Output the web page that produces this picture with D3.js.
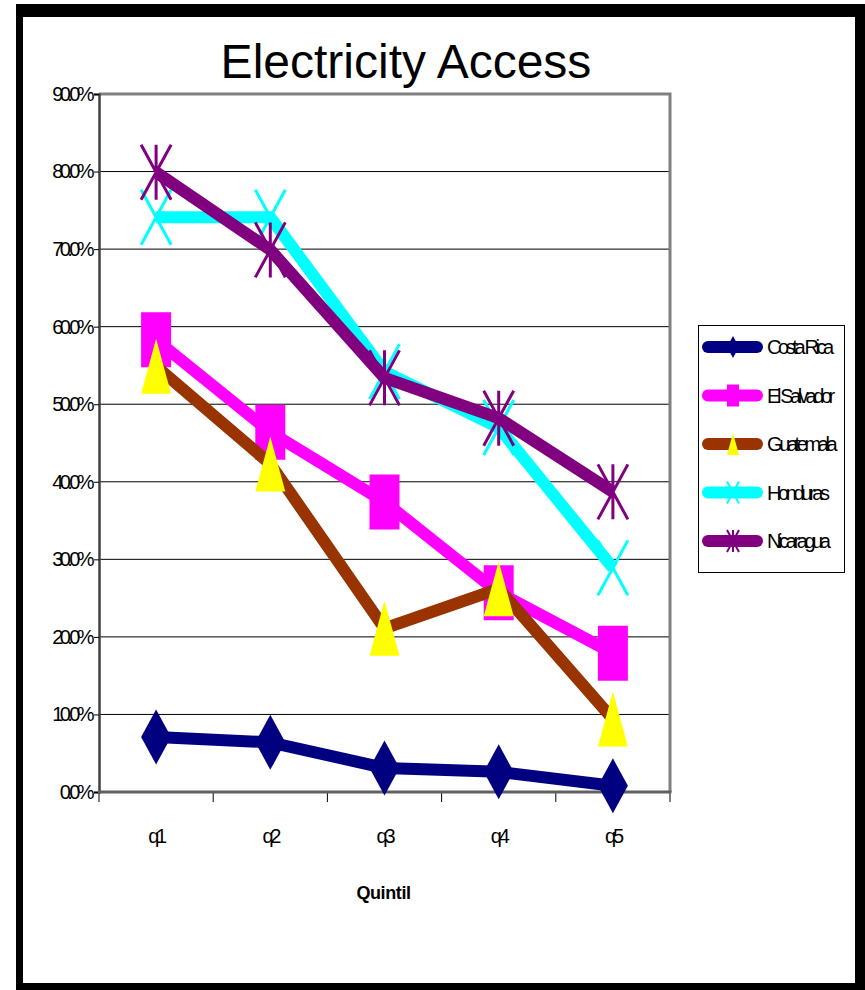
<!DOCTYPE html>
<html>
<head>
<meta charset="utf-8">
<script src="https://cdn.jsdelivr.net/npm/d3@7/dist/d3.min.js"></script>
<style>
  html, body { margin: 0; padding: 0; background: #fff; }
  svg { display: block; font-family: "Liberation Sans", Arial, sans-serif; }
</style>
</head>
<body>
<svg id="chart" width="865" height="990"></svg>
<script>
// Electricity access by income quintile, five Central American countries
const quintiles = ["q1", "q2", "q3", "q4", "q5"];
const countries = ["Costa Rica", "El Salvador", "Guatemala", "Honduras", "Nicaragua"];
const costaRica  = [0.071, 0.064, 0.031, 0.026, 0.008];
const elSalvador = [0.583, 0.464, 0.374, 0.257, 0.179];
const guatemala  = [0.549, 0.423, 0.211, 0.262, 0.094];
const honduras   = [0.741, 0.741, 0.542, 0.470, 0.289];
const nicaragua  = [0.799, 0.699, 0.534, 0.482, 0.387];
const yTicks = [0, 0.1, 0.2, 0.3, 0.4, 0.5, 0.6, 0.7, 0.8, 0.9];

const seriesValues = [costaRica, elSalvador, guatemala, honduras, nicaragua];
const lineColors   = ["#000080", "#FF00FF", "#993300", "#00FFFF", "#800080"];
const markerFills  = ["#000080", "#FF00FF", "#FFFF00", "none", "none"];
const markerKinds  = ["diamond", "square", "triangle", "x", "star"];

const svg = d3.select("#chart");

// frame
svg.append("rect").attr("x", 16).attr("y", 4).attr("width", 849).attr("height", 986).attr("fill", "#000");
svg.append("rect").attr("x", 23).attr("y", 17).attr("width", 832).attr("height", 966).attr("fill", "#fff");

const plot = { left: 99, right: 670, top: 94, bottom: 792 };

const x = d3.scaleBand().domain(quintiles).range([plot.left, plot.right]);
const y = d3.scaleLinear().domain([0, 0.9]).range([plot.bottom, plot.top]);

// title
svg.append("text")
  .attr("x", 406).attr("y", 78)
  .attr("text-anchor", "middle")
  .attr("font-size", 48)
  .attr("fill", "#000")
  .text("Electricity Access");

// gridlines
svg.append("g")
  .selectAll("line")
  .data(yTicks.filter(t => t > 0 && t < 0.9))
  .join("line")
  .attr("x1", plot.left).attr("x2", plot.right)
  .attr("y1", d => y(d)).attr("y2", d => y(d))
  .attr("stroke", "#000").attr("stroke-width", 1);

// plot border top/right
svg.append("path")
  .attr("d", `M${plot.left},${plot.top} H${plot.right} V${plot.bottom}`)
  .attr("fill", "none").attr("stroke", "#808080").attr("stroke-width", 3);

// y axis
const yAxis = svg.append("g")
  .attr("transform", `translate(${plot.left},0)`)
  .call(d3.axisLeft(y).tickValues(yTicks).tickFormat(d3.format(".1%")).tickSize(5).tickPadding(3));
yAxis.select(".domain").attr("stroke", "#404040").attr("stroke-width", 2.5);
yAxis.selectAll(".tick line").attr("stroke", "#000");
yAxis.selectAll(".tick text")
  .attr("font-size", 20)
  .attr("letter-spacing", -3.6)
  .attr("fill", "#000")
  .attr("font-family", "Liberation Sans, Arial, sans-serif");

// x axis
const xAxis = svg.append("g")
  .attr("transform", `translate(0,${plot.bottom})`)
  .call(d3.axisBottom(x).tickSize(0).tickPadding(37));
xAxis.select(".domain").remove();
xAxis.selectAll(".tick text")
  .attr("font-size", 20)
  .attr("letter-spacing", -3.2)
  .attr("fill", "#000")
  .attr("font-family", "Liberation Sans, Arial, sans-serif");

// x tick marks at category boundaries
const bounds = quintiles.map(q => x(q)).concat([x(quintiles[quintiles.length - 1]) + x.bandwidth()]);
svg.append("g").selectAll("line")
  .data(bounds)
  .join("line")
  .attr("x1", d => d).attr("x2", d => d)
  .attr("y1", plot.bottom).attr("y2", plot.bottom + 10)
  .attr("stroke", "#000").attr("stroke-width", 1);

svg.append("line")
  .attr("x1", plot.left - 1).attr("x2", plot.right + 1.5)
  .attr("y1", plot.bottom).attr("y2", plot.bottom)
  .attr("stroke", "#606060").attr("stroke-width", 3);

// x axis title
svg.append("text")
  .attr("x", x("q3") + x.bandwidth() / 2 - 1).attr("y", 899)
  .attr("text-anchor", "middle")
  .attr("font-size", 18).attr("font-weight", "bold")
  .attr("letter-spacing", -0.4)
  .attr("fill", "#000")
  .text("Quintil");

// marker paths
function markerPath(kind, w, h) {
  const a = w / 2, b = h / 2;
  switch (kind) {
    case "diamond":  return `M0,${-b}L${a},0L0,${b}L${-a},0Z`;
    case "square":   return `M${-a},${-b}H${a}V${b}H${-a}Z`;
    case "triangle": return `M0,${-b}L${a},${b}H${-a}Z`;
    case "x":        return `M${-a},${-b}L${a},${b}M${a},${-b}L${-a},${b}`;
    case "star":     return `M${-a},${-b}L${a},${b}M${a},${-b}L${-a},${b}M0,${-b}V${b}`;
  }
}

const line = d3.line()
  .x((d, i) => x(quintiles[i]) + x.bandwidth() / 2)
  .y(d => y(d));

const seriesG = svg.append("g");
seriesValues.forEach((vals, s) => {
  const g = seriesG.append("g");
  g.append("path")
    .attr("d", line(vals))
    .attr("fill", "none")
    .attr("stroke", lineColors[s])
    .attr("stroke-width", 12)
    .attr("stroke-linejoin", "miter");
  const hollow = markerFills[s] === "none";
  g.selectAll("path.m")
    .data(vals)
    .join("path")
    .attr("class", "m")
    .attr("transform", (d, i) => `translate(${x(quintiles[i]) + x.bandwidth() / 2},${y(d)})`)
    .attr("d", markerPath(markerKinds[s], 30, 55))
    .attr("fill", hollow ? "none" : markerFills[s])
    .attr("stroke", hollow ? lineColors[s] : "none")
    .attr("stroke-width", hollow ? 3 : 0);
});

// legend
const legend = svg.append("g");
legend.append("rect")
  .attr("x", 698.5).attr("y", 325.5).attr("width", 146).attr("height", 247)
  .attr("fill", "#fff").attr("stroke", "#000").attr("stroke-width", 1);

countries.forEach((name, s) => {
  const cy = 347 + s * 48.5;
  legend.append("line")
    .attr("x1", 708).attr("x2", 757)
    .attr("y1", cy).attr("y2", cy)
    .attr("stroke", lineColors[s]).attr("stroke-width", 12)
    .attr("stroke-linecap", "round");
  const hollow = markerFills[s] === "none";
  legend.append("path")
    .attr("transform", `translate(733,${cy})`)
    .attr("d", markerPath(markerKinds[s], 12, 22))
    .attr("fill", hollow ? "none" : markerFills[s])
    .attr("stroke", hollow ? lineColors[s] : "none")
    .attr("stroke-width", hollow ? 2 : 0);
  legend.append("text")
    .attr("x", 767).attr("y", cy + 7)
    .attr("font-size", 20)
    .attr("letter-spacing", -3.4)
    .attr("fill", "#000")
    .text(name);
});
</script>
</body>
</html>
